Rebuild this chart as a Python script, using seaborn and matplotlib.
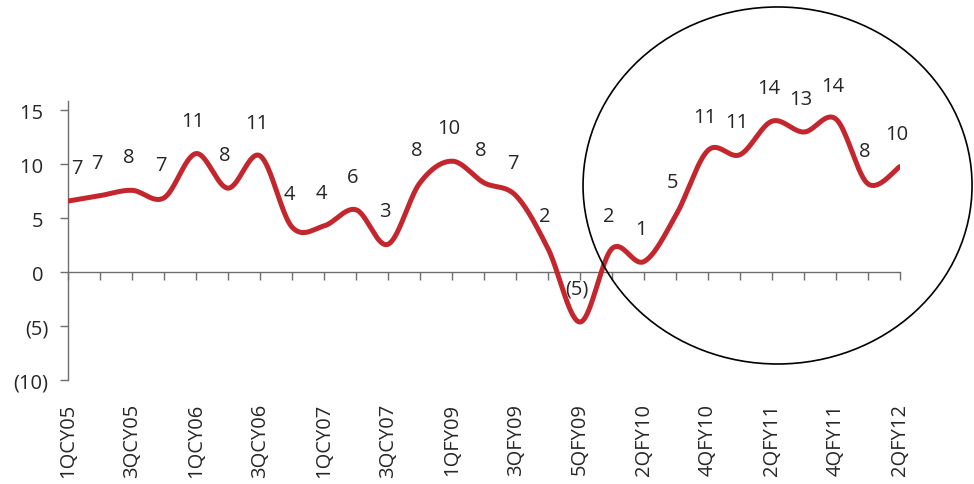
import numpy as np
import pandas as pd
import matplotlib
matplotlib.use("Agg")
import matplotlib.pyplot as plt
import seaborn as sns
from matplotlib.patches import Ellipse

# Quarterly growth series (%)
quarters = ["1QCY05", "2QCY05", "3QCY05", "4QCY05", "1QCY06", "2QCY06", "3QCY06",
            "4QCY06", "1QCY07", "2QCY07", "3QCY07", "4QCY07", "1QFY09", "2QFY09",
            "3QFY09", "4QFY09", "5QFY09", "1QFY10", "2QFY10", "3QFY10", "4QFY10",
            "1QFY11", "2QFY11", "3QFY11", "4QFY11", "1QFY12", "2QFY12"]
growth = [6.6, 7.1, 7.6, 6.9, 11.0, 7.8, 10.8, 4.2, 4.3, 5.8, 2.6, 8.3, 10.3, 8.3,
          7.1, 2.2, -4.6, 2.2, 1.0, 5.3, 11.3, 10.9, 14.0, 13.0, 14.2, 8.2, 9.8]
y_ticks = [-10, -5, 0, 5, 10, 15]
y_tick_labels = ["(10)", "(5)", "0 ", "5 ", "10 ", "15 "]

LINE_RED = "#C4262E"
AXIS_GREY = "#6E6E6E"
TEXT = "#262626"
FS = 14.5

sns.set_theme(style="white")
plt.rcParams["font.family"] = ["Open Sans", "DejaVu Sans"]


def smooth_curve(values, n=40):
    """Bezier smoothing through every point (Catmull-Rom style, 1/6 tension)."""
    pts = np.column_stack([np.arange(len(values)), values]).astype(float)
    last = len(pts) - 1
    xs, ys = [], []
    for i in range(last):
        p0 = pts[max(i - 1, 0)]
        p1 = pts[i]
        p2 = pts[i + 1]
        p3 = pts[min(i + 2, last)]
        c1 = p1 + (p2 - p0) / 6.0
        c2 = p2 - (p3 - p1) / 6.0
        t = np.linspace(0, 1, n, endpoint=(i == last - 1))[:, None]
        b = ((1 - t) ** 3) * p1 + 3 * ((1 - t) ** 2) * t * c1 + 3 * (1 - t) * t ** 2 * c2 + t ** 3 * p2
        xs.append(b[:, 0])
        ys.append(b[:, 1])
    return pd.DataFrame({"pos": np.concatenate(xs), "growth": np.concatenate(ys)})


curve = smooth_curve(growth)

fig = plt.figure(figsize=(9.74, 4.85), dpi=100)
ax = fig.add_axes([0.0698, 0.2138, 0.924 - 0.0698, 0.7903 - 0.2138])

sns.lineplot(data=curve, x="pos", y="growth", sort=False, estimator=None,
             color=LINE_RED, linewidth=3.6, ax=ax, zorder=3)

ax.set_xlim(0, len(quarters) - 1)
ax.set_ylim(-10, 15.9)
ax.set_xlabel("")
ax.set_ylabel("")

# Spines: y on the left, category axis crossing at zero
for side in ("top", "right"):
    ax.spines[side].set_visible(False)
ax.spines["left"].set_color(AXIS_GREY)
ax.spines["left"].set_linewidth(1.0)
ax.spines["bottom"].set_position(("data", 0))
ax.spines["bottom"].set_color(AXIS_GREY)
ax.spines["bottom"].set_linewidth(1.0)

ax.set_xticks(range(len(quarters)))
ax.set_xticklabels([""] * len(quarters))
ax.tick_params(axis="x", direction="out", length=6, width=1.0, color=AXIS_GREY, bottom=True)

ax.set_yticks(y_ticks)
ax.set_yticklabels(y_tick_labels)
ax.tick_params(axis="y", direction="out", length=6, width=1.0, color=AXIS_GREY, left=True,
               pad=8, labelsize=FS, labelcolor=TEXT)

# Category labels sit below the plot area, every second quarter
sec = ax.secondary_xaxis("bottom")
sec.set_xticks(range(0, len(quarters), 2))
sec.set_xticklabels(quarters[::2], rotation=90)
sec.tick_params(length=0, pad=16, labelsize=FS, labelcolor=TEXT)
sec.spines["bottom"].set_visible(False)

# Value labels above each point
for i, v in enumerate(growth):
    r = int(round(abs(v)))
    txt = f"{r}" if v >= 0 else f"({r})"
    dx = 6.5 if i == 0 else -2.2
    ax.annotate(txt, xy=(i, v), xytext=(dx, 23.8), textcoords="offset points",
                ha="center", va="center", fontsize=FS, color=TEXT, zorder=4)

# Highlight ring around the recent quarters
ring = Ellipse((0.7983, 0.6155), 0.3994, 0.7361, transform=fig.transFigure,
               fill=False, edgecolor="black", linewidth=1.2, zorder=5)
fig.patches.append(ring)

fig.savefig("out.png", dpi=100)
